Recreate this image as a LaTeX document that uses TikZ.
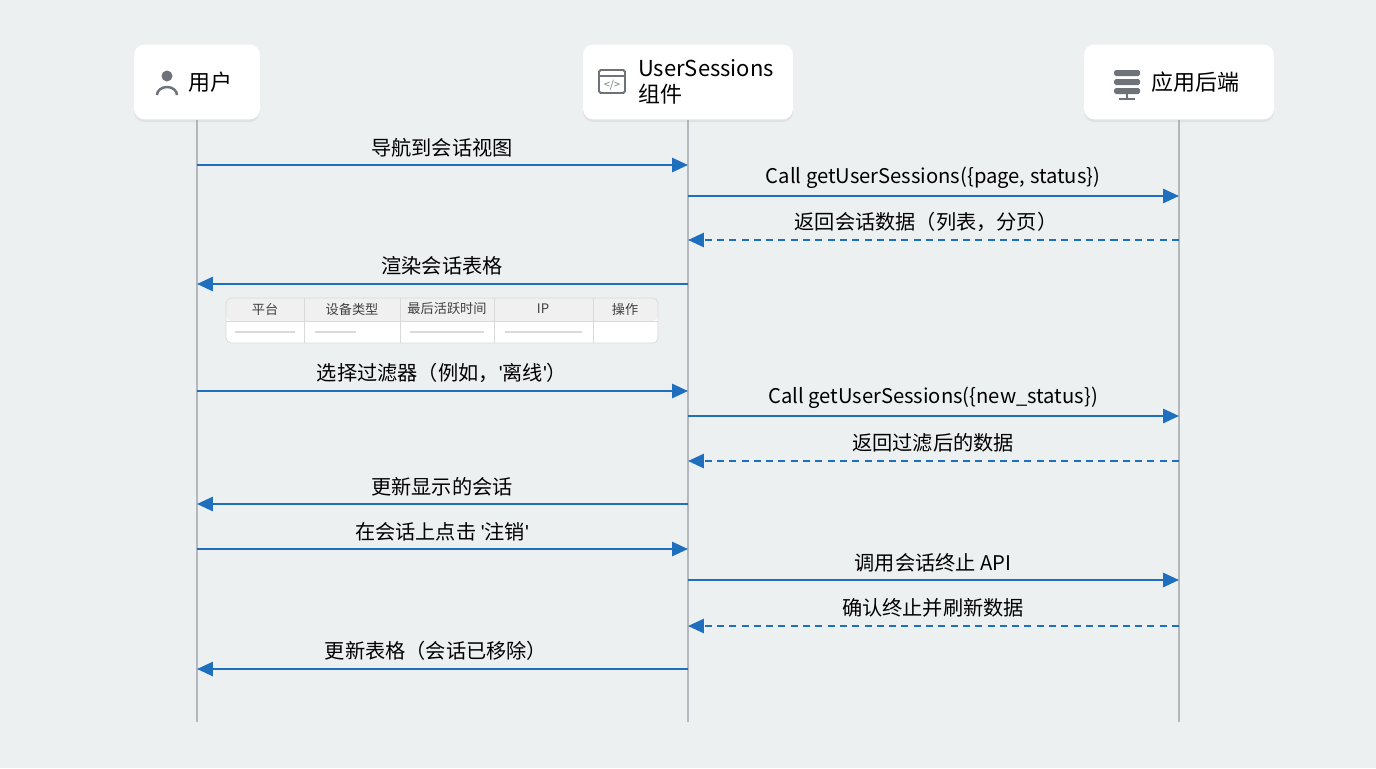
\documentclass[tikz,border=0pt]{standalone}
\usepackage{fontspec}
\setmainfont{Noto Sans CJK SC}
\newfontfamily\latinq{Liberation Sans}
\usetikzlibrary{arrows.meta,shadows}
\definecolor{bgcol}{HTML}{EDF0F1}
\definecolor{arrowblue}{HTML}{1F6FBF}
\definecolor{lifegray}{HTML}{B4B8BC}
\definecolor{icongray}{HTML}{6E737A}
\tikzset{
  actor/.style={draw=none,fill=white,rounded corners=6pt,drop shadow={opacity=0.12,shadow xshift=0pt,shadow yshift=-1.5pt},minimum height=1.5cm,font=\fontsize{12.5}{14}\selectfont},
  life/.style={lifegray,line width=1.3pt},
  call/.style={arrowblue,line width=1.3pt,-{Triangle[length=9pt,width=8pt]}},
  reply/.style={call,dash pattern=on 4pt off 3pt},
  lbl/.style={font=\fontsize{11.5}{13}\selectfont,inner sep=1pt},
  cell/.style={font=\fontsize{7.5}{9}\selectfont,text=black!75},
}
\newcommand{\q}[1]{{\latinq'}#1{\latinq'}}
\begin{document}
\begin{tikzpicture}[x=0.02cm,y=-0.02cm]
\fill[bgcol] (0,0) rectangle (1376,768);
\useasboundingbox (0,0) rectangle (1376,768);

% lifelines
\coordinate (u0) at (197,120); \coordinate (u1) at (197,722);
\coordinate (c0) at (688,120); \coordinate (c1) at (688,722);
\coordinate (b0) at (1179,120); \coordinate (b1) at (1179,722);
\draw[life] (u0) -- (u1);
\draw[life] (c0) -- (c1);
\draw[life] (b0) -- (b1);

% participants
\node[actor,minimum width=2.52cm] (user) at (197,82) {};
\node[actor,minimum width=4.2cm] (comp) at (688,82) {};
\node[actor,minimum width=3.8cm] (back) at (1179,82) {};
\node[anchor=west,font=\fontsize{12.5}{14}\selectfont] (usert) at (182,82) {用户};
\node[anchor=west,align=left,font=\fontsize{12.5}{15}\selectfont] (compt) at (632,82) {UserSessions\\组件};
\node[anchor=west,font=\fontsize{12.5}{14}\selectfont] (backt) at (1145,82) {应用后端};
% icons
\fill[icongray] (167,76) circle (5.5);
\draw[icongray,line width=1.4pt] (157,95) arc (180:360:10 and 8);
\draw[icongray,line width=1.1pt,rounded corners=1pt] (599,70) rectangle (625,93);
\draw[icongray,line width=1.1pt] (599,76) -- (625,76);
\node[icongray,font=\fontsize{6}{6}\selectfont,inner sep=0] (codei) at (612,85) {</>};
\foreach \yy in {70,79,88}
  \fill[icongray,rounded corners=1pt] (1114,\yy) rectangle (1140,\yy+6);
\draw[icongray,line width=1pt] (1127,94) -- (1127,99) (1119,99) -- (1135,99);

% messages
\newcommand{\msg}[5]{%
  \coordinate (m#1a) at (#2,#4); \coordinate (m#1b) at (#3,#4);
  \draw[#5] (m#1a) -- (m#1b);}
\msg{1}{197}{688}{165}{call}
\msg{2}{688}{1179}{196}{call}
\msg{3}{1179}{688}{240}{reply}
\msg{4}{688}{197}{284}{call}
\msg{5}{197}{688}{391}{call}
\msg{6}{688}{1179}{416}{call}
\msg{7}{1179}{688}{461}{reply}
\msg{8}{688}{197}{504}{call}
\msg{9}{197}{688}{549}{call}
\msg{10}{688}{1179}{580}{call}
\msg{11}{1179}{688}{626}{reply}
\msg{12}{688}{197}{669}{call}

\node[lbl] (l1) at (442,148) {导航到会话视图};
\node[lbl] (l2) at (933,178) {Call getUserSessions(\{page, status\})};
\node[lbl] (l3) at (926,222) {返回会话数据（列表，分页）};
\node[lbl] (l4) at (442,266) {渲染会话表格};
\node[lbl] (l5) at (442,373) {选择过滤器（例如，\q{离线}）};
\node[lbl] (l6) at (933,398) {Call getUserSessions(\{new\_status\})};
\node[lbl] (l7) at (933,443) {返回过滤后的数据};
\node[lbl] (l8) at (442,487) {更新显示的会话};
\node[lbl] (l9) at (442,532) {在会话上点击 \q{注销}};
\node[lbl] (l10) at (933,563) {调用会话终止 API};
\node[lbl] (l11) at (933,608) {确认终止并刷新数据};
\node[lbl] (l12) at (436,651) {更新表格（会话已移除）};

% table
\fill[white,rounded corners=3pt] (226,298) rectangle (658,343);
\fill[black!6,rounded corners=3pt] (226,298) rectangle (658,321);
\draw[black!15,rounded corners=3pt] (226,298) rectangle (658,343);
\draw[black!15] (226,321) -- (658,321);
\foreach \xx in {304,400,494,593} \draw[black!15] (\xx,298) -- (\xx,343);
\node[cell] (h1) at (265,309) {平台};
\node[cell] (h2) at (352,309) {设备类型};
\node[cell] (h3) at (447,309) {最后活跃时间};
\node[cell] (h4) at (543,309) {IP};
\node[cell] (h5) at (625,309) {操作};
\foreach \xa/\xb in {235/295,315/356,410/484,505/582}
  \draw[black!15,line width=1.5pt] (\xa,332) -- (\xb,332);
\end{tikzpicture}
\end{document}
